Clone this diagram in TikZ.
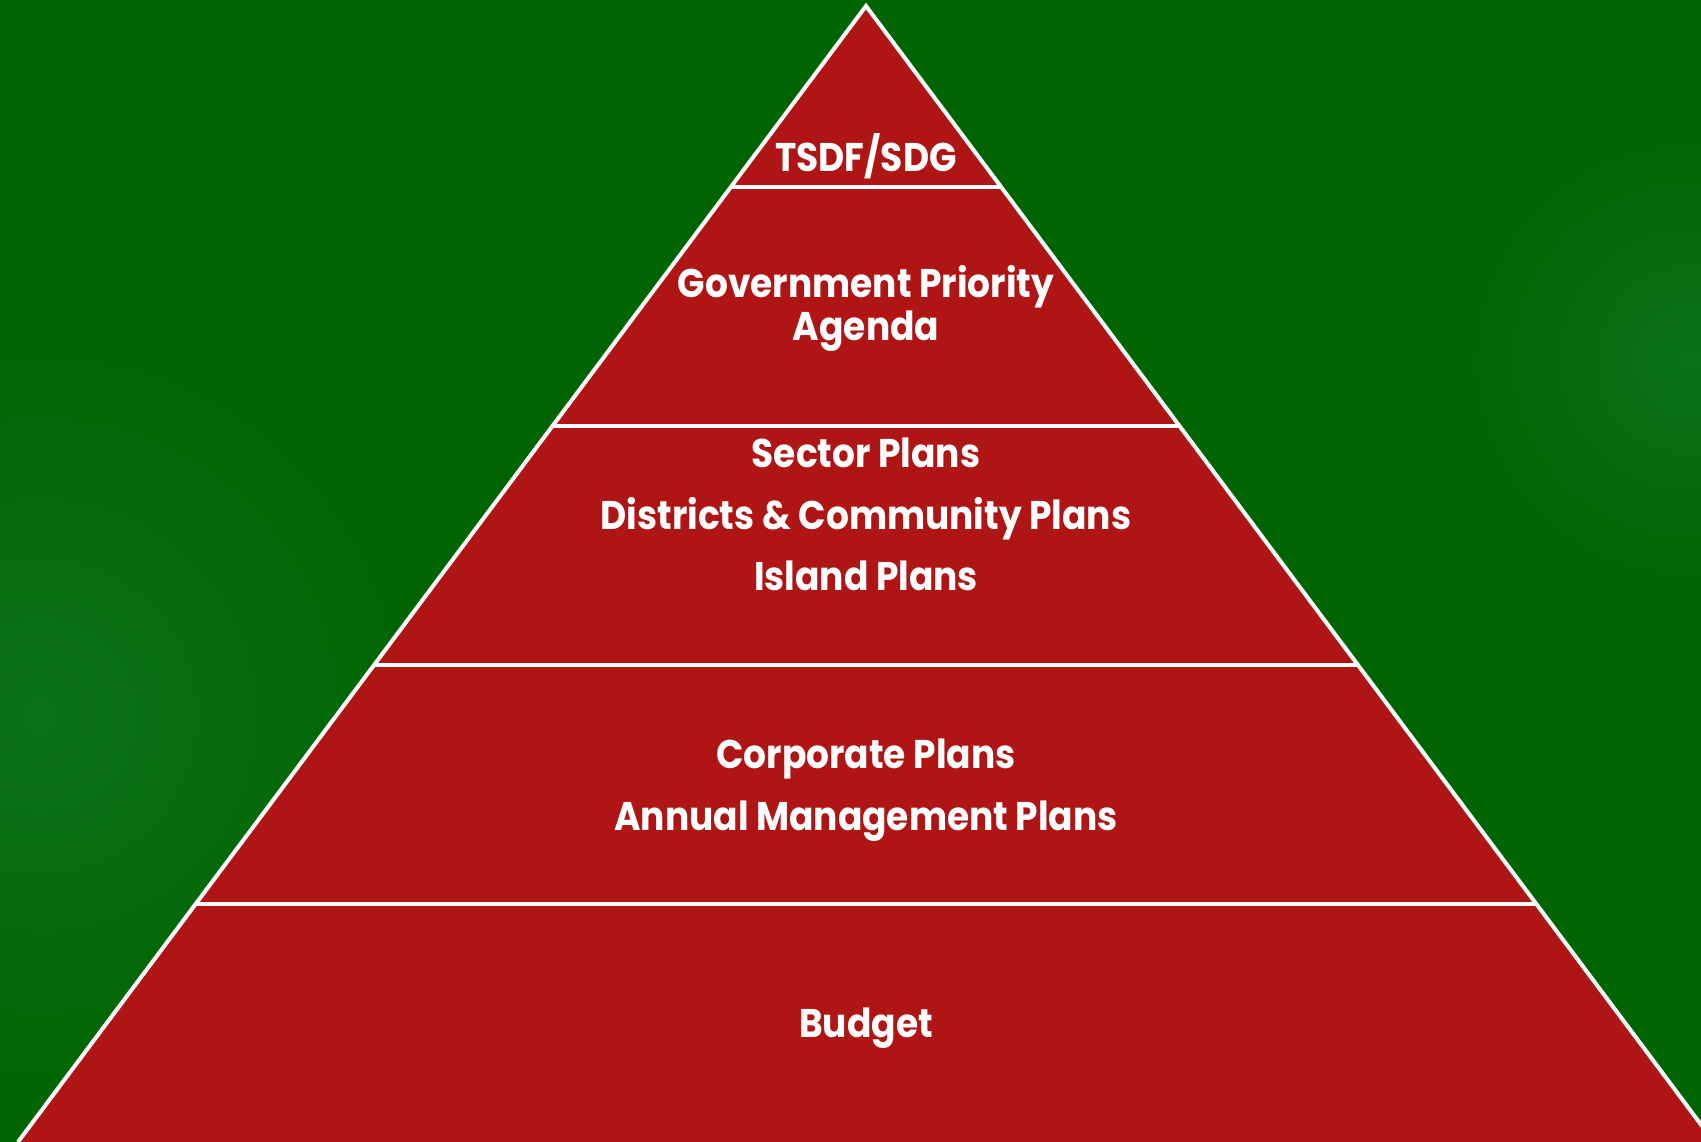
\documentclass[tikz,border=0pt]{standalone}
\usepackage{fontspec}
\setmainfont{Poppins}[FakeStretch=0.9]
\usetikzlibrary{calc}
\definecolor{bg}{RGB}{0,100,0}
\definecolor{glow}{RGB}{12,114,26}
\definecolor{tier}{RGB}{175,21,20}
\tikzset{
  lbl/.style={text=white, font=\fontsize{40}{48}\selectfont\bfseries, align=center, inner sep=0pt, anchor=base},
  sep/.style={draw=white, line width=4pt},
}
\begin{document}
\begin{tikzpicture}[x=1pt,y=-1pt]
\useasboundingbox (0,0) rectangle (1701,1142);
\begin{scope}
\clip (0,0) rectangle (1701,1142);
\fill[bg] (0,0) rectangle (1701,1142);
\shade[inner color=glow, outer color=bg] (40,715) circle (400);
\shade[inner color=glow, outer color=bg] (1690,360) circle (240);
\coordinate (apex) at (866,6);
\coordinate (bl) at (18,1142);
\coordinate (br) at (1714,1142);
\fill[tier] (apex) -- (bl) -- (br) -- cycle;
\begin{scope}
\clip (apex) -- (bl) -- (br) -- cycle;
\foreach \y in {186.6,426,665,904}{
  \draw[sep] (0,\y) -- (1701,\y);
}
\end{scope}
\draw[sep, line join=miter] (bl) -- (apex) -- (br);
\end{scope}
\node[lbl] (t1) at (866,172) {TSDF/SDG};
\node[lbl] (t2a) at (866,298) {Government Priority};
\node[lbl] (t2b) at (866,340) {Agenda};
\node[lbl] (t3a) at (866,467) {Sector Plans};
\node[lbl] (t3b) at (866,529) {Districts \& Community Plans};
\node[lbl] (t3c) at (866,590) {Island Plans};
\node[lbl] (t4a) at (866,768) {Corporate Plans};
\node[lbl] (t4b) at (866,830) {Annual Management Plans};
\node[lbl] (t5) at (866,1037) {Budget};
\end{tikzpicture}
\end{document}
